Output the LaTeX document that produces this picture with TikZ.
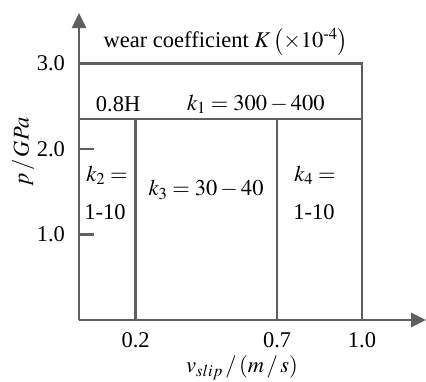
\documentclass[tikz,border=0pt]{standalone}
\usepackage{amsmath}
\usepackage{mathptmx}
\usepackage{fontspec}
\setmainfont{Liberation Serif}
\usetikzlibrary{arrows.meta, positioning}
\definecolor{linegray}{RGB}{95,95,95}

\begin{document}
\begin{tikzpicture}[x=283pt, y=85.5pt,
    axis/.style={line width=2.6pt, draw=linegray, -{Triangle[length=15pt, width=14pt]}},
    zone/.style={line width=2.6pt, draw=linegray},
    lbl/.style={font=\fontsize{22.5}{25}\selectfont, inner sep=0pt},
]
    \useasboundingbox (-0.2792,-0.7251) rectangle (1.2261,3.7427);

    \coordinate (o) at (0,0);
    \coordinate (xend) at (1.2261,0);
    \coordinate (yend) at (0,3.5906);

    % zones
    \draw[zone] (0,3) -- (1,3) -- (1,0);
    \draw[zone] (0,2.351) -- (1,2.351);
    \draw[zone] (0.2,2.351) -- (0.2,0);
    \draw[zone] (0.7,2.351) -- (0.7,0);
    \draw[zone] (0,1) -- (0.053,1);
    \draw[zone] (0,2) -- (0.053,2);

    % axes
    \draw[axis] (o) -- (xend);
    \draw[axis] (o) -- (yend);

    \node[lbl] (title) at (0.519,3.251) {wear coefficient $K\left(\times 10^{\text{-}4}\right)$};
    \node[lbl] (hard) at (0.138,2.526) {0.8H};
    \node[lbl] (k1) at (0.625,2.526) {$k_1 = 300 - 400$};
    \node[lbl] (k2) at (0.099,1.696) {$k_2 =$};
    \node[lbl] (k2v) at (0.092,1.263) {1-10};
    \node[lbl] (k3) at (0.449,1.520) {$k_3 = 30 - 40$};
    \node[lbl] (k4) at (0.834,1.696) {$k_4 =$};
    \node[lbl] (k4v) at (0.830,1.263) {1-10};

    \node[lbl, anchor=east] (y3) at (-0.049,3) {3.0};
    \node[lbl, anchor=east] (y2) at (-0.049,2) {2.0};
    \node[lbl, anchor=east] (y1) at (-0.049,1) {1.0};
    \node[lbl] (x02) at (0.2,-0.234) {0.2};
    \node[lbl] (x07) at (0.7,-0.234) {0.7};
    \node[lbl] (x10) at (1,-0.234) {1.0};

    \node[lbl] (xlab) at (0.576,-0.561) {$v_{slip}\,/\left(m\,/\,s\right)$};
    \node[lbl, rotate=90] (ylab) at (-0.198,1.965) {$p\,/\,GPa$};
\end{tikzpicture}
\end{document}
